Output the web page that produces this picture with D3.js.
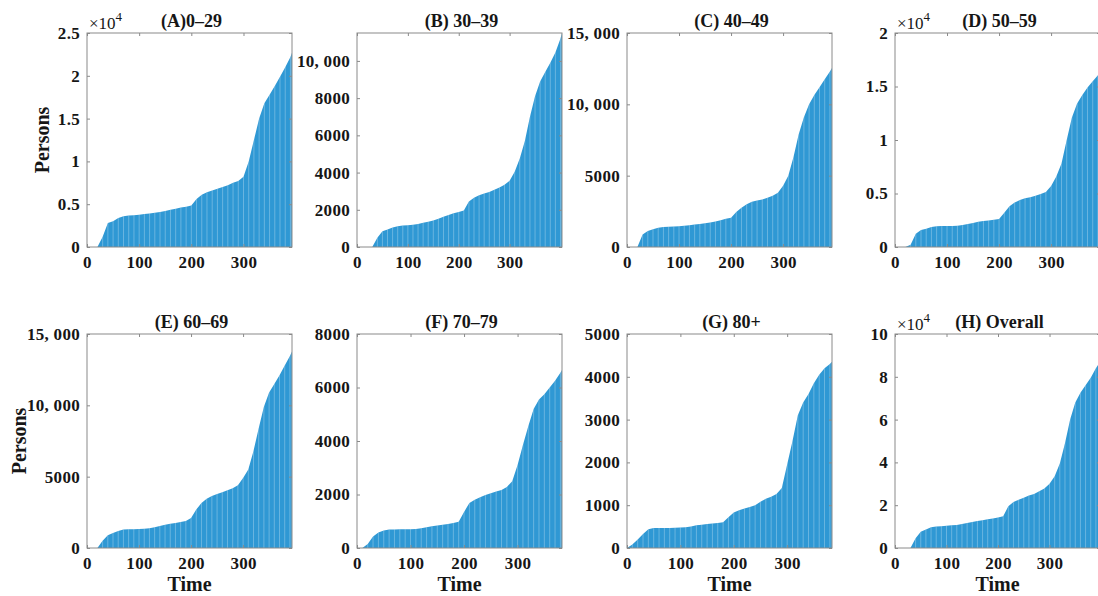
<!DOCTYPE html>
<html><head><meta charset="utf-8">
<script src="https://cdn.jsdelivr.net/npm/d3@7"></script>
<style>
body{margin:0;background:#fff}
svg{display:block}
text{font-family:"Liberation Serif","Times New Roman",serif}
</style>
</head><body>
<svg id="c" width="1098" height="596"></svg>
<script>
// ---------- data ----------
const days = [0,10,20,30,40,50,60,70,80,90,100,110,120,130,140,150,160,170,180,190,200,
              210,220,230,240,250,260,270,280,290,300,310,320,330,340,350,360,370,380,390,400];
const titles = ["(A)0\u201329","(B) 30\u201339","(C) 40\u201349","(D) 50\u201359",
                "(E) 60\u201369","(F) 70\u201379","(G) 80+","(H) Overall"];
const endDays = [393,403,394,394,394,383,384,398];
const yMaxes = [25000,11500,15000,20000,15000,8000,5000,100000];
const yTickSets = [
  [0,5000,10000,15000,20000,25000],
  [0,2000,4000,6000,8000,10000],
  [0,5000,10000,15000],
  [0,5000,10000,15000,20000],
  [0,5000,10000,15000],
  [0,2000,4000,6000,8000],
  [0,1000,2000,3000,4000,5000],
  [0,20000,40000,60000,80000,100000]
];
const scaled = [true,false,false,true,false,false,false,true];
const xTicks = [0,100,200,300];

const valsA = [0,0,0,1200,2800,3000,3400,3600,3680,3720,
  3780,3850,3920,4000,4100,4200,4350,4480,4600,4700,
  4850,5600,6100,6400,6600,6800,7000,7200,7500,7700,
  8200,10000,12500,15000,16800,17800,18800,19900,21000,22200,
  22700];
const valsB = [0,0,0,0,500,850,940,1050,1120,1150,
  1170,1200,1240,1300,1360,1420,1520,1620,1720,1820,
  1880,1960,2450,2650,2780,2880,2960,3080,3200,3350,
  3560,4050,4750,5700,7000,8100,8900,9400,9900,10450,
  11200,11500];
const valsC = [0,0,0,880,1120,1250,1350,1400,1420,1440,
  1460,1490,1530,1570,1620,1670,1720,1790,1880,1980,
  2050,2450,2750,3000,3170,3260,3330,3460,3600,3800,
  4300,5000,6300,7900,9100,10000,10650,11200,11750,12300,
  12550];
const valsD = [0,0,0,200,1250,1600,1700,1880,1940,1960,
  1960,1970,1980,2050,2150,2250,2350,2420,2480,2550,
  2620,3200,3800,4150,4400,4550,4650,4780,4950,5150,
  5700,6600,7800,10000,12100,13400,14200,14900,15500,16050,
  16260];
const valsE = [0,0,0,500,900,1050,1200,1290,1310,1320,
  1330,1350,1380,1450,1550,1630,1700,1760,1820,1900,
  2100,2700,3150,3450,3650,3780,3900,4050,4180,4400,
  4900,5500,6800,8400,9900,10900,11500,12100,12800,13450,
  13780];
const valsF = [0,0,150,430,580,650,690,695,700,700,
  705,710,740,780,810,840,870,900,930,980,
  1350,1680,1800,1900,1980,2050,2110,2170,2280,2500,
  3100,3850,4550,5200,5550,5750,6000,6250,6550,
  6650];
const valsG = [0,80,200,330,440,465,470,470,470,475,
  480,485,500,530,545,560,570,585,600,720,
  830,880,920,960,1000,1080,1150,1200,1260,1400,
  1950,2500,3100,3400,3600,3850,4050,4200,4300,
  4350];
const valsH = [0,0,0,0,4500,7600,8600,9700,10000,10200,
  10400,10600,10800,11200,11700,12100,12600,13000,13400,13800,
  14200,14800,19500,21500,22500,23500,24500,25200,26500,27800,
  30000,33500,39500,49000,60000,68000,72500,76000,79500,84000,
  87000];
const series = [valsA,valsB,valsC,valsD,valsE,valsF,valsG,valsH];

// ---------- layout ----------
const lefts = [87,357,627,895];
const tops = [33,334];
const personsOffset = [-38,-61];
const W = 205, H = 214;
const barColor = "#2f98d4";
const axisColor = "#8a8a8a";
const textColor = "#161616";

const svg = d3.select("#c");
const defs = svg.append("defs");

function fmtY(v, sc){
  if (sc) { return d3.format("~g")(v/10000); }
  if (v >= 10000) return d3.format(",")(v).replace(",", ", ");
  return String(v);
}

series.forEach((vals, i) => {
  const col = i % 4, row = Math.floor(i / 4);
  const end = endDays[i];
  const t = days.filter(d => d < end).concat([end]);
  const data = t.map((d, k) => ({t: d, v: vals[k]}));
  const x = d3.scaleLinear().domain([0, end]).range([0, W]);
  const y = d3.scaleLinear().domain([0, yMaxes[i]]).range([H, 0]);
  const g = svg.append("g").attr("transform", `translate(${lefts[col]},${tops[row]})`);

  const area = d3.area().x(d => x(d.t)).y0(y(0)).y1(d => y(d.v));
  const cid = "clip" + i;
  defs.append("clipPath").attr("id", cid).append("path").attr("d", area(data));

  g.append("path").attr("d", area(data)).attr("fill", barColor);
  g.append("g").attr("clip-path", `url(#${cid})`)
    .selectAll("line").data(data).join("line")
    .attr("x1", d => x(d.t)).attr("x2", d => x(d.t))
    .attr("y1", y(0)).attr("y2", 0)
    .attr("stroke", "rgba(255,255,255,0.28)").attr("stroke-width", 1);

  const ax = (gen, tr) => {
    const a = g.append("g").attr("transform", tr).call(gen);
    a.select(".domain").remove();
    a.selectAll(".tick line").attr("stroke", axisColor);
    a.selectAll("text").attr("fill", textColor).attr("font-size", 17)
      .attr("font-weight", "bold").attr("letter-spacing", 0.3);
    return a;
  };
  ax(d3.axisBottom(x).tickValues(xTicks).tickSize(-3).tickPadding(9).tickFormat(d3.format("d")),
     `translate(0,${H})`);
  ax(d3.axisTop(x).tickValues(xTicks).tickSize(-3).tickFormat(""), "translate(0,0)");
  ax(d3.axisLeft(y).tickValues(yTickSets[i]).tickSize(-3).tickPadding(7)
       .tickFormat(v => fmtY(v, scaled[i])), "translate(0,0)");
  ax(d3.axisRight(y).tickValues(yTickSets[i]).tickSize(-3).tickFormat(""), `translate(${W},0)`);

  g.append("rect").attr("x", 0).attr("y", 0).attr("width", W).attr("height", H)
    .attr("fill", "none").attr("stroke", axisColor).attr("stroke-width", 1);

  g.append("text").attr("x", W/2 + 2).attr("y", -6).attr("text-anchor", "middle")
    .attr("font-size", 18).attr("font-weight", "bold").attr("fill", textColor)
    .text(titles[i]);

  if (scaled[i]) {
    const e = g.append("text").attr("x", 2).attr("y", -4).attr("font-size", 17)
      .attr("fill", textColor);
    e.append("tspan").text("\u00d710");
    e.append("tspan").attr("dy", -8).attr("font-size", 13).text("4");
  }
  if (col === 0) {
    g.append("text").attr("transform", `translate(${personsOffset[row]},${H/2}) rotate(-90)`)
      .attr("text-anchor", "middle").attr("font-size", 20).attr("font-weight", "bold")
      .attr("fill", textColor).text("Persons");
  }
  if (row === 1) {
    g.append("text").attr("x", W/2).attr("y", H + 43).attr("text-anchor", "middle")
      .attr("font-size", 20).attr("font-weight", "bold").attr("fill", textColor)
      .text("Time");
  }
});
</script>
</body></html>
